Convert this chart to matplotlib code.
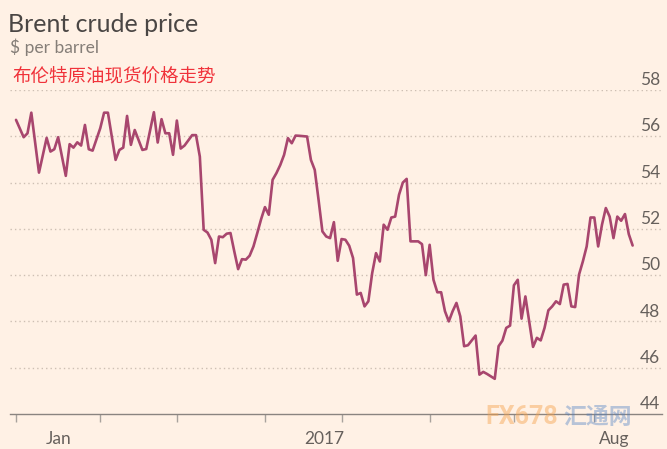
import matplotlib
matplotlib.use("Agg")
import matplotlib.pyplot as plt
import pandas as pd

# ---- data -------------------------------------------------------------
# trading-day index (0 = 2 Jan 2017) and Brent price, $ per barrel
days = [0, 2, 3, 4, 6, 8, 9, 10, 11, 13, 14, 15, 16, 17, 18, 19, 20, 22, 23, 24,
        26, 27, 28, 29, 30, 31, 33, 34, 36, 37, 38, 39, 40, 41, 42, 43, 44, 46, 47, 48,
        49, 50, 51, 52, 53, 54, 55, 56, 57, 58, 59, 60, 61, 62, 63, 64, 65, 66, 67, 68,
        69, 70, 71, 72, 73, 74, 76, 77, 78, 79, 80, 81, 82, 83, 84, 85, 86, 87, 88, 89,
        90, 91, 92, 93, 94, 95, 96, 97, 98, 99, 100, 101, 102, 103, 105, 106, 107, 108, 109, 110,
        111, 112, 113, 114, 115, 116, 117, 118, 120, 121, 122, 123, 125, 126, 127, 128, 129, 130, 131, 132,
        133, 135, 136, 137, 138, 139, 140, 141, 142, 143, 144, 145, 146, 147, 148, 149, 150, 151, 152, 153,
        154, 155, 156, 157, 158, 159, 160, 161]
prices = [56.71, 55.96, 56.13, 57.02, 54.43, 55.93, 55.34, 55.44, 55.96, 54.29, 55.66, 55.51, 55.74, 55.60, 56.49, 55.44, 55.38, 56.35, 57.02, 57.02,
          54.98, 55.41, 55.51, 56.88, 55.63, 56.27, 55.41, 55.45, 57.04, 55.73, 56.74, 56.13, 56.13, 55.20, 56.68, 55.47, 55.60, 56.05, 56.05, 55.12,
          51.96, 51.84, 51.53, 50.52, 51.67, 51.64, 51.79, 51.82, 51.02, 50.26, 50.69, 50.67, 50.84, 51.24, 51.82, 52.42, 52.94, 52.61, 54.12, 54.41,
          54.76, 55.20, 55.92, 55.70, 56.03, 56.02, 55.99, 54.98, 54.55, 53.25, 51.89, 51.67, 51.60, 52.29, 50.62, 51.56, 51.53, 51.27, 50.74, 49.16,
          49.23, 48.65, 48.87, 50.09, 50.95, 50.59, 52.18, 51.96, 52.49, 52.53, 53.47, 54.00, 54.16, 51.46, 51.46, 51.34, 50.00, 51.31, 49.80, 49.26,
          49.26, 48.44, 48.00, 48.44, 48.80, 48.22, 46.93, 46.97, 47.39, 45.70, 45.82, 45.73, 45.52, 46.93, 47.17, 47.72, 47.82, 49.56, 49.80, 48.12,
          49.08, 46.90, 47.29, 47.18, 47.72, 48.48, 48.65, 48.87, 48.75, 49.59, 49.62, 48.65, 48.62, 50.02, 50.59, 51.24, 52.49, 52.49, 51.24, 52.18,
          52.90, 52.53, 51.60, 52.53, 52.35, 52.64, 51.77, 51.28]

y_ticks = [44, 46, 48, 50, 52, 54, 56, 58]
x_labels = ["Jan", "2017", "Aug"]
x_label_days = [11, 80.4, 156.1]

title = "Brent crude price"
subtitle = "$ per barrel"
cn_title = "布伦特原油现货价格走势"

# month boundaries on the trading-day axis
bdays = pd.bdate_range("2017-01-02", "2017-08-31")
month_ticks = [i for i in range(len(bdays)) if i == 0 or bdays[i].month != bdays[i - 1].month]

# ---- style ------------------------------------------------------------
BG = "#fff1e5"
LINE = "#a8466e"
GRID = "#cdbfb3"
TEXT_GREY = "#66605c"
W, H = 667, 449

fig = plt.figure(figsize=(W / 100, H / 100), dpi=100, facecolor=BG)

left_px, right_px = 10, 662
top_px, bottom_px = 90, 414
ax = fig.add_axes([left_px / W, 1 - bottom_px / H,
                   (right_px - left_px) / W, (bottom_px - top_px) / H])
ax.set_facecolor(BG)

px_per_day = 3.83
x0 = 0 - (16 - left_px) / px_per_day
x1 = x0 + (right_px - left_px) / px_per_day
ax.set_xlim(x0, x1)
ax.set_ylim(44, 58)

for s in ["top", "right", "left"]:
    ax.spines[s].set_visible(False)
ax.spines["bottom"].set_color("#8a8480")
ax.spines["bottom"].set_linewidth(1.0)

# gridlines
for v in y_ticks[1:]:
    ax.axhline(v, color=GRID, lw=1.0, ls=(0, (1, 2.2)), zorder=1)

# y labels (right, above gridlines)
for v in y_ticks:
    ax.annotate(str(v), xy=(0.997, v), xycoords=("axes fraction", "data"),
                xytext=(0, 3.5), textcoords="offset points",
                ha="right", va="baseline", fontsize=12.5, color=TEXT_GREY,
                family="Lato", zorder=3, annotation_clip=False)

ax.set_yticks([])

# x ticks: month marks without labels, labels at own positions without marks
ax.set_xticks(month_ticks)
ax.set_xticklabels([""] * len(month_ticks))
ax.tick_params(axis="x", which="major", direction="out", length=6, width=1,
               color="#a8a29d")
ax.set_xticks(x_label_days, minor=True)
ax.set_xticklabels(x_labels, minor=True)
ax.tick_params(axis="x", which="minor", length=0, pad=12, labelsize=12.5,
               labelcolor=TEXT_GREY)
for lab in ax.get_xticklabels(minor=True):
    lab.set_family("Lato")

ax.plot(days, prices, color=LINE, lw=1.9, solid_joinstyle="round",
        solid_capstyle="round", zorder=2, clip_on=False)

# titles
fig.text(8 / W, 1 - 32 / H, title, fontsize=18, color="#4a4644",
         family="Lato", va="baseline", ha="left")
fig.text(10 / W, 1 - 53 / H, subtitle, fontsize=12.5, color="#857e78",
         family="Lato", va="baseline", ha="left")
fig.text(12 / W, 1 - 81 / H, cn_title, fontsize=13.3, color="#f0323a",
         family=["Noto Sans CJK SC", "DejaVu Sans"], va="baseline", ha="left")

# faint watermark
fig.text(485 / W, 1 - 424 / H, "FX678", fontsize=18, color="#f6a24c", alpha=0.45,
         family="Roboto", weight="bold", va="baseline", ha="left")
fig.text(563 / W, 1 - 424 / H, "汇通网", fontsize=16.5, color="#4d7fc4", alpha=0.4,
         family=["Noto Sans CJK SC", "DejaVu Sans"], weight="bold", va="baseline", ha="left")

fig.savefig("out.png", dpi=100, facecolor=BG)
